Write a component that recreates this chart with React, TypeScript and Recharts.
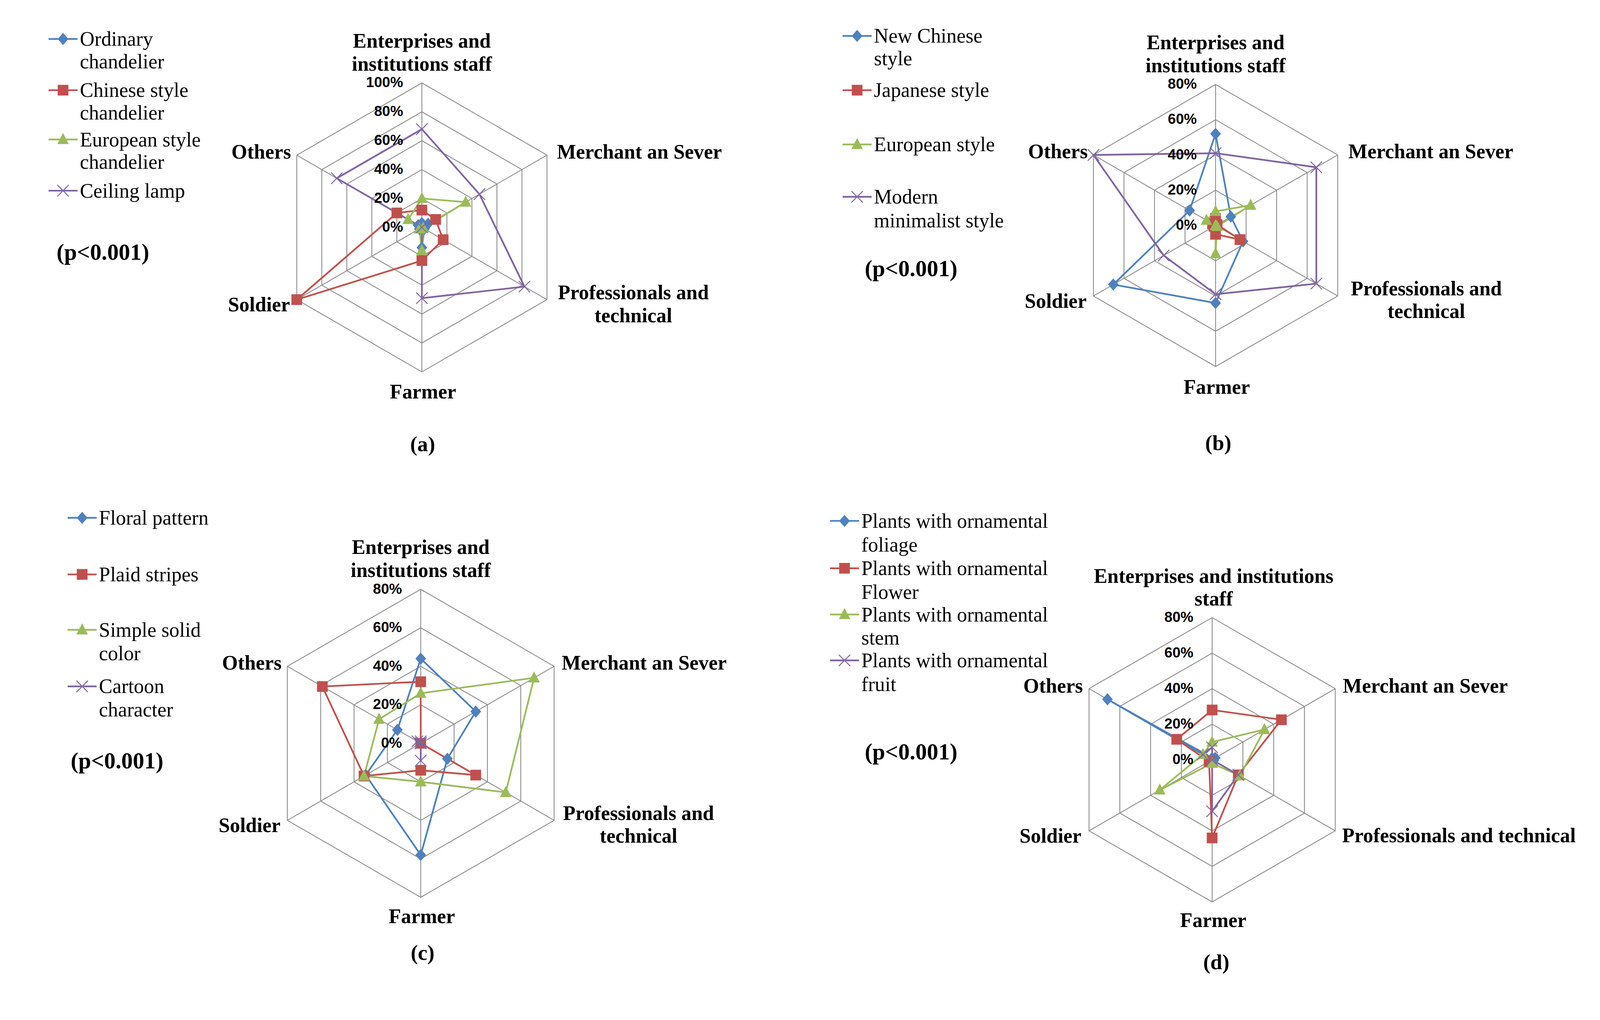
import React from "react";
import {
  PolarAngleAxis,
  PolarGrid,
  PolarRadiusAxis,
  Radar,
  RadarChart,
} from "recharts";

const W = 4187;
const H = 2611;

const categories = [
  "Enterprises and institutions staff",
  "Merchant an Sever",
  "Professionals and technical",
  "Farmer",
  "Soldier",
  "Others",
];

// (a) lamps
const ordinaryChandelier = [3, 5, 2, 14, 2, 3];
const chineseChandelier = [12, 11, 17, 23, 100, 20];
const europeanChandelier = [20, 35, 1, 16, 2, 11];
const ceilingLamp = [68, 46, 82, 49, 0, 68];

// (b) decoration style
const newChineseStyle = [52, 10, 18, 44, 67, 17];
const japaneseStyle = [4, 1, 16, 5, 1, 2];
const europeanStyle = [8, 23, 1, 16, 0, 6];
const modernMinimalist = [41, 66, 66, 39, 34, 80];

// (c) pattern
const floralPattern = [44, 33, 16, 58, 33, 14];
const plaidStripes = [32, 0, 33, 14, 34, 59];
const simpleSolid = [26, 68, 51, 20, 34, 25];
const cartoonCharacter = [1, 0, 0, 9, 0, 2];

// (d) plants
const ornamentalFoliage = [1, 2, 1, 0, 0, 68];
const ornamentalFlower = [28, 45, 17, 44, 2, 23];
const ornamentalStem = [10, 34, 18, 2, 34, 6];
const ornamentalFruit = [7, 0, 17, 29, 0, 6];

const legendA = [["Ordinary", "chandelier"], ["Chinese style", "chandelier"], ["European style", "chandelier"], ["Ceiling lamp"]];
const legendB = [["New Chinese", "style"], ["Japanese style"], ["European style"], ["Modern", "minimalist style"]];
const legendC = [["Floral pattern"], ["Plaid stripes"], ["Simple solid", "color"], ["Cartoon", "character"]];
const legendD = [
  ["Plants with ornamental", "foliage"],
  ["Plants with ornamental", "Flower"],
  ["Plants with ornamental", "stem"],
  ["Plants with ornamental", "fruit"],
];

const COLORS = ["#4F81BD", "#C0504D", "#9BBB59", "#8064A2"];
const SHAPES = ["diamond", "square", "triangle", "cross"] as const;
const SERIF = "'Liberation Serif', 'Times New Roman', serif";
const SANS = "'Liberation Sans', Arial, sans-serif";

type LabelSpec = {
  lines: string[];
  anchor: "start" | "middle" | "end";
  dx: number;
  dy: number;
};

const labelsStd = (mdx: number, pdx: number, pdy: number, fdy: number): LabelSpec[] => [
  { lines: ["Enterprises and", "institutions staff"], anchor: "middle", dx: 0, dy: -110 },
  { lines: ["Merchant an Sever"], anchor: "start", dx: mdx, dy: -9 },
  { lines: ["Professionals and", "technical"], anchor: "middle", dx: pdx, dy: pdy },
  { lines: ["Farmer"], anchor: "middle", dx: 3, dy: fdy },
  { lines: ["Soldier"], anchor: "end", dx: -18, dy: 13 },
  { lines: ["Others"], anchor: "end", dx: -15, dy: -9 },
];

const labelsD: LabelSpec[] = [
  { lines: ["Enterprises and institutions", "staff"], anchor: "middle", dx: 4, dy: -109 },
  { lines: ["Merchant an Sever"], anchor: "start", dx: 20, dy: -7 },
  { lines: ["Professionals and technical"], anchor: "start", dx: 18, dy: 12 },
  { lines: ["Farmer"], anchor: "middle", dx: 3, dy: 48 },
  { lines: ["Soldier"], anchor: "end", dx: -20, dy: 13 },
  { lines: ["Others"], anchor: "end", dx: -16, dy: -7 },
];

const panels = [
  {
    tag: "(a)", left: 0, top: 0, width: 2093, height: 1300, cx: 1104, cy: 595, r: 378, max: 100, tickCount: 6,
    series: [ordinaryChandelier, chineseChandelier, europeanChandelier, ceilingLamp], legend: legendA,
    labels: labelsStd(26, 226, -19, 52),
    legendX: 127, legendRows: [[102, 161], [236, 295], [365, 424], [499]], pX: 148, pY: 660, tagX: 1106, tagY: 1162,
  },
  {
    tag: "(b)", left: 2093, top: 0, width: 2094, height: 1300, cx: 1088, cy: 590, r: 369, max: 80, tickCount: 5,
    series: [newChineseStyle, japaneseStyle, europeanStyle, modernMinimalist], legend: legendB,
    labels: labelsStd(28, 232, -20, 54),
    legendX: 2205, legendRows: [[94, 153], [236], [378], [515, 577]], pX: 2263, pY: 703, tagX: 3188, tagY: 1159,
  },
  {
    tag: "(c)", left: 0, top: 1300, width: 2093, height: 1311, cx: 1101, cy: 645, r: 403, max: 80, tickCount: 5,
    series: [floralPattern, plaidStripes, simpleSolid, cartoonCharacter], legend: legendC,
    labels: labelsStd(20, 221, -19, 50),
    legendX: 177, legendRows: [[1355], [1503], [1648, 1710], [1796, 1857]], pX: 185, pY: 1991, tagX: 1106, tagY: 2493,
  },
  {
    tag: "(d)", left: 2093, top: 1300, width: 2094, height: 1311, cx: 1079, cy: 688, r: 372, max: 80, tickCount: 5,
    series: [ornamentalFoliage, ornamentalFlower, ornamentalStem, ornamentalFruit], legend: legendD,
    labels: labelsD,
    legendX: 2172, legendRows: [[1363, 1425], [1487, 1549], [1608, 1669], [1728, 1790]], pX: 2263, pY: 1967, tagX: 3183, tagY: 2517,
  },
];

function Marker({ shape, x, y, color }: { shape: string; x: number; y: number; color: string }) {
  if (shape === "diamond") {
    return <polygon points={`${x},${y - 16} ${x + 14},${y} ${x},${y + 16} ${x - 14},${y}`} fill={color} />;
  }
  if (shape === "square") {
    return <rect x={x - 14} y={y - 14} width={28} height={28} fill={color} />;
  }
  if (shape === "triangle") {
    return <polygon points={`${x},${y - 17} ${x + 15},${y + 12} ${x - 15},${y + 12}`} fill={color} />;
  }
  return (
    <g stroke={color} strokeWidth={2.5}>
      <line x1={x - 15} y1={y - 15} x2={x + 15} y2={y + 15} />
      <line x1={x - 15} y1={y + 15} x2={x + 15} y2={y - 15} />
    </g>
  );
}

function Panel({ p }: { p: (typeof panels)[number] }) {
  const data = categories.map((c, i) => {
    const row: Record<string, number | string> = { category: c };
    p.series.forEach((s, k) => (row[`s${k}`] = s[i]));
    return row;
  });

  // category names sit off the hexagon corners the way Excel places them
  const angleTick = (props: any) => {
    const i = categories.indexOf(props.payload.value);
    const spec: LabelSpec = p.labels[i];
    const th = ((90 - 60 * i) * Math.PI) / 180;
    const vx = props.x - 8 * Math.cos(th);
    const vy = props.y + 8 * Math.sin(th);
    return (
      <text textAnchor={spec.anchor} fontFamily={SERIF} fontWeight="bold" fontSize={53} fill="#000">
        {spec.lines.map((l, j) => (
          <tspan key={j} x={vx + spec.dx} y={vy + spec.dy + j * 60} dominantBaseline="central">
            {l}
          </tspan>
        ))}
      </text>
    );
  };

  const radiusTick = (props: any) => (
    <text
      x={props.x - 49}
      y={props.y - 2}
      textAnchor="end"
      dominantBaseline="central"
      fontFamily={SANS}
      fontWeight="bold"
      fontSize={38}
      fill="#000"
    >
      {`${props.payload.value}%`}
    </text>
  );

  return (
    <div style={{ position: "absolute", left: p.left, top: p.top }}>
      <RadarChart
        width={p.width}
        height={p.height}
        data={data}
        cx={p.cx}
        cy={p.cy}
        outerRadius={p.r}
        margin={{ top: 0, right: 0, bottom: 0, left: 0 }}
      >
        <PolarGrid gridType="polygon" stroke="#8A8A8A" strokeWidth={2.2} />
        <PolarAngleAxis dataKey="category" tick={angleTick} tickLine={false} axisLine={false} />
        <PolarRadiusAxis
          angle={90}
          domain={[0, p.max]}
          tickCount={p.tickCount}
          axisLine={false}
          tickLine={false}
          tick={radiusTick}
        />
        {p.series.map((_, k) => (
          <Radar
            key={k}
            dataKey={`s${k}`}
            stroke={COLORS[k]}
            strokeWidth={4.5}
            fill="none"
            fillOpacity={0}
            isAnimationActive={false}
            dot={(d: any) => (
              <Marker key={`${k}-${d.index}`} shape={SHAPES[k]} x={d.cx} y={d.cy} color={COLORS[k]} />
            )}
          />
        ))}
      </RadarChart>
    </div>
  );
}

function Overlay() {
  return (
    <svg
      width={W}
      height={H}
      style={{ position: "absolute", left: 0, top: 0, pointerEvents: "none" }}
    >
      {panels.map((p) => (
        <g key={p.tag}>
          {p.legend.map((lines, k) => {
            const y0 = p.legendRows[k][0];
            const x0 = p.legendX;
            return (
              <g key={k}>
                <line x1={x0} y1={y0} x2={x0 + 76} y2={y0} stroke={COLORS[k]} strokeWidth={4.5} />
                <Marker shape={SHAPES[k]} x={x0 + 38} y={y0} color={COLORS[k]} />
                {lines.map((l, j) => (
                  <text
                    key={j}
                    x={x0 + 82}
                    y={p.legendRows[k][j]}
                    dominantBaseline="central"
                    fontFamily={SERIF}
                    fontSize={53}
                    fill="#000"
                  >
                    {l}
                  </text>
                ))}
              </g>
            );
          })}
          <text x={p.pX} y={p.pY} dominantBaseline="central" fontFamily={SERIF} fontWeight="bold" fontSize={60} fill="#000">
            (p&lt;0.001)
          </text>
          <text x={p.tagX} y={p.tagY} textAnchor="middle" dominantBaseline="central" fontFamily={SERIF} fontWeight="bold" fontSize={56} fill="#000">
            {p.tag}
          </text>
        </g>
      ))}
    </svg>
  );
}

export default function App() {
  // the visible page can be a little narrower than the nominal 4187 px;
  // shrink the whole figure so nothing falls off the right edge
  const vw = typeof window !== "undefined" ? document.documentElement.clientWidth || window.innerWidth : W;
  const vh = typeof window !== "undefined" ? document.documentElement.clientHeight || window.innerHeight : H;
  const s = Math.min(1, vw / W, vh / H);
  return (
    <div
      style={{
        position: "absolute",
        left: 0,
        top: 0,
        width: W,
        height: H,
        background: "#fff",
        transform: `scale(${s})`,
        transformOrigin: "0 0",
      }}
    >
      {panels.map((p) => (
        <Panel key={p.tag} p={p} />
      ))}
      <Overlay />
    </div>
  );
}
